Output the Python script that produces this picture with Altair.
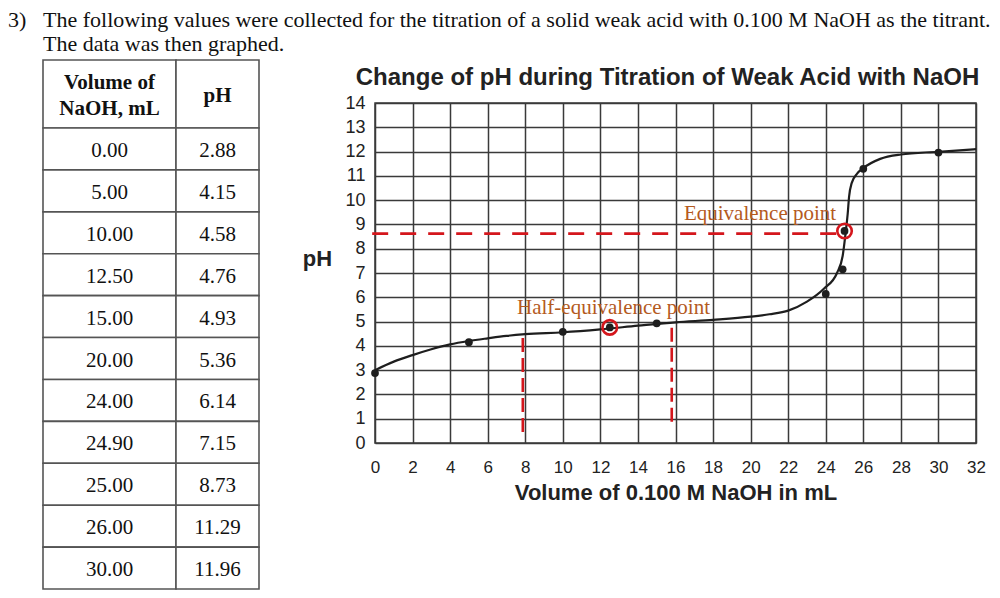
import altair as alt
import pandas as pd

# ---------------- data ----------------
question_number = "3)"
header_lines = [
    "The following values were collected for the titration of a solid weak acid with 0.100 M NaOH as the titrant.",
    "The data was then graphed.",
]
chart_title = ["Change of pH during Titration of Weak Acid with NaOH"]

table_header = [["Volume of", "NaOH, mL"], ["pH"]]
volume_text = ["0.00", "5.00", "10.00", "12.50", "15.00", "20.00", "24.00", "24.90", "25.00", "26.00", "30.00"]
ph_text = ["2.88", "4.15", "4.58", "4.76", "4.93", "5.36", "6.14", "7.15", "8.73", "11.29", "11.96"]

# points marked on the graph (the 20.00 mL reading is not marked)
point_volume = [0.0, 5.0, 10.0, 12.5, 15.0, 24.0, 24.9, 25.0, 26.0, 30.0]
point_ph = [2.88, 4.15, 4.58, 4.76, 4.93, 6.14, 7.15, 8.73, 11.29, 11.96]

# hand-drawn titration curve
curve_volume = [0, 1, 2, 3, 4, 5, 6, 7, 8, 10, 12, 14, 16, 18, 20, 21, 22, 23, 23.9, 24.6,
                24.9, 25.05, 25.17, 25.24, 25.38, 25.68, 26.0, 26.9, 28, 30, 32]
curve_ph = [3.0, 3.35, 3.62, 3.86, 4.06, 4.2, 4.31, 4.41, 4.48, 4.56, 4.68, 4.83, 4.97, 5.07, 5.2,
            5.3, 5.45, 5.82, 6.35, 7.0, 7.7, 8.6, 9.45, 10.13, 10.7, 11.1, 11.32, 11.7, 11.88, 11.99, 12.1]

circled_volume = [12.5, 25.0]
circled_ph = [4.76, 8.73]

annot_text = ["Equivalence point", "Half-equivalence point"]
annot_volume = [20.5, 12.7]
annot_ph = [9.42, 5.56]

# dashed guide lines
hdash_x1 = [-0.15]
hdash_x2 = [24.7]
hdash_y = [8.62]
vdash_x = [7.87, 15.8]
vdash_y1 = [0.45, 0.88]
vdash_y2 = [4.45, 4.95]

x_ticks = list(range(0, 33, 2))
y_ticks = list(range(0, 15))

# ---------------- layout / style ----------------
W, H = 601, 340
PAD_L, PAD_T = 367, 95
RED = "#d4161c"
BROWN = "#b45a1e"
INK = "#1e1e1e"
GRID = "#3a3a3a"
SANS = "Liberation Sans"
SERIF = "Liberation Serif"

COL_W = [133, 83]
HEADER_H = 68
ROW_H = 41.9
HEAD_LH = 26

main_x = alt.Scale(domain=[0, 32], nice=False, zero=False)
main_y = alt.Scale(domain=[0, 14], nice=False, zero=False)

x_axis = alt.Axis(values=x_ticks, grid=True, gridColor=GRID, gridWidth=1.5, domain=False,
                  ticks=False, tickSize=0, labelFont=SANS, labelFontSize=17, labelColor="#222",
                  labelPadding=16, labelFlush=False,
                  titleFont=SANS, titleFontSize=22, titleFontWeight="bold", titleColor="#222",
                  titlePadding=7)
y_axis = alt.Axis(values=y_ticks, grid=True, gridColor=GRID, gridWidth=1.5, domain=False,
                  ticks=False, tickSize=0, labelFont=SANS, labelFontSize=18, labelColor="#222",
                  labelPadding=10, labelFlush=False,
                  titleFont=SANS, titleFontSize=22, titleFontWeight="bold", titleColor="#222",
                  titleAngle=0, titleAlign="center", titleBaseline="middle",
                  titleX=-58, titleY=155)

X_TITLE = "Volume of 0.100 M NaOH in mL"
Y_TITLE = "pH"


def xq(field):
    return alt.X(f"{field}:Q", scale=main_x, axis=x_axis, title=X_TITLE)


def yq(field):
    return alt.Y(f"{field}:Q", scale=main_y, axis=y_axis, title=Y_TITLE)


curve_df = pd.DataFrame({"volume": curve_volume, "ph": curve_ph, "order": list(range(len(curve_volume)))})
points_df = pd.DataFrame({"volume": point_volume, "ph": point_ph})
circ_df = pd.DataFrame({"volume": circled_volume, "ph": circled_ph})
annot_df = pd.DataFrame({"volume": annot_volume, "ph": annot_ph, "label": annot_text})
hdash_df = pd.DataFrame({"volume": hdash_x1, "volume2": hdash_x2, "ph": hdash_y})
vdash_df = pd.DataFrame({"volume": vdash_x, "ph": vdash_y1, "ph2": vdash_y2})
title_df = pd.DataFrame({"title": chart_title})

curve = alt.Chart(curve_df).mark_line(interpolate="monotone", color=INK, strokeWidth=2.2).encode(
    x=xq("volume"), y=yq("ph"), order="order:Q")
points = alt.Chart(points_df).mark_circle(size=60, color=INK, opacity=1).encode(
    x=xq("volume"), y=yq("ph"))
rings = alt.Chart(circ_df).mark_point(shape="circle", size=210, color=RED, strokeWidth=2.6,
                                       filled=False, opacity=1).encode(x=xq("volume"), y=yq("ph"))
hdash = alt.Chart(hdash_df).mark_rule(color=RED, strokeWidth=2.6, strokeDash=[16, 12]).encode(
    x=xq("volume"), x2="volume2:Q", y=yq("ph"))
vdash = alt.Chart(vdash_df).mark_rule(color=RED, strokeWidth=2.6, strokeDash=[14, 6]).encode(
    x=xq("volume"), y=yq("ph"), y2="ph2:Q")
annots = alt.Chart(annot_df).mark_text(font=SERIF, fontSize=21, color=BROWN).encode(
    x=xq("volume"), y=yq("ph"), text="label:N")
title_mark = alt.Chart(title_df).mark_text(font=SANS, fontSize=24, fontWeight="bold", color="#222",
                                           align="center", baseline="middle").encode(
    x=alt.value(W / 2 - 8), y=alt.value(-25), text="title:N")

main = alt.layer(curve, hdash, vdash, points, rings, annots, title_mark)

# ---------------- table ----------------
col_edges = [0, COL_W[0], COL_W[0] + COL_W[1]]
table_h = HEADER_H + ROW_H * len(volume_text)
rows = [table_header] + [[[v], [p]] for v, p in zip(volume_text, ph_text)]
cells = []
for r, row in enumerate(rows):
    top = 0 if r == 0 else HEADER_H + (r - 1) * ROW_H
    bottom = HEADER_H if r == 0 else top + ROW_H
    for c in range(2):
        lines = row[c]
        mid = (top + bottom) / 2
        cells.append({"x0": col_edges[c], "x1": col_edges[c + 1], "y0": top, "y1": bottom,
                      "xm": (col_edges[c] + col_edges[c + 1]) / 2,
                      "yt": mid - (len(lines) - 1) * HEAD_LH / 2,
                      "text": "\n".join(lines), "head": r == 0})
cells_df = pd.DataFrame(cells)

tx = alt.Scale(domain=[0, col_edges[-1]], range=[43 - 375, 259 - 375], nice=False, zero=False)
ty = alt.Scale(domain=[0, table_h], range=[60 - 103, 589 - 103], nice=False, zero=False)

t_rect = alt.Chart(cells_df).mark_rect(fill="white", stroke="#555", strokeWidth=1.6).encode(
    x=alt.X("x0:Q", scale=tx, axis=None), x2="x1:Q",
    y=alt.Y("y0:Q", scale=ty, axis=None), y2="y1:Q")
t_body = alt.Chart(cells_df).transform_filter("!datum.head").mark_text(
    font=SERIF, fontSize=21, color="#111", dy=2).encode(
    x=alt.X("xm:Q", scale=tx, axis=None), y=alt.Y("yt:Q", scale=ty, axis=None), text="text:N")
t_head = alt.Chart(cells_df).transform_filter("datum.head").mark_text(
    font=SERIF, fontSize=21, fontWeight="bold", color="#111", lineBreak="\n",
    lineHeight=HEAD_LH, dy=2).encode(
    x=alt.X("xm:Q", scale=tx, axis=None), y=alt.Y("yt:Q", scale=ty, axis=None), text="text:N")
table = alt.layer(t_rect, t_body, t_head)

# ---------------- page header ----------------
head_df = pd.DataFrame({"col": [0, 1, 1], "line": [0, 0, 1],
                        "text": [question_number, header_lines[0], header_lines[1]]})
hx = alt.Scale(domain=[0, 1], range=[8 - 375, 43 - 375], nice=False, zero=False)
hy = alt.Scale(domain=[0, 1], range=[19.5 - 103, 43.5 - 103], nice=False, zero=False)
header = alt.Chart(head_df).mark_text(font=SERIF, fontSize=22, color="#111", align="left",
                                      baseline="middle").encode(
    x=alt.X("col:Q", scale=hx, axis=None), y=alt.Y("line:Q", scale=hy, axis=None), text="text:N")

chart = alt.layer(main, table, header).resolve_scale(x="independent", y="independent").properties(
    width=W, height=H,
    padding={"left": PAD_L, "top": PAD_T, "right": 16, "bottom": 147},
    autosize=alt.AutoSizeParams(type="none"),
).configure_view(stroke=GRID, strokeWidth=1.5)

chart.save("out.html", embed_options={"renderer": "svg", "actions": False})
